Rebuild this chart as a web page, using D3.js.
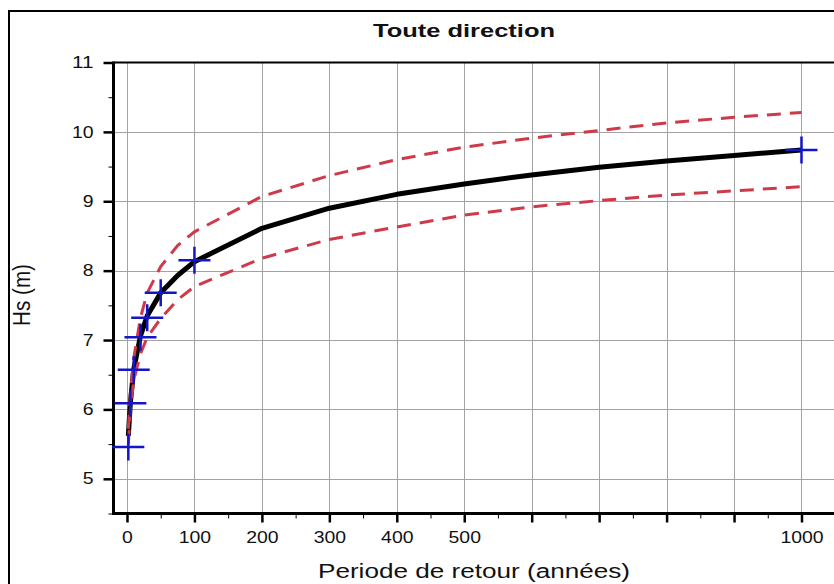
<!DOCTYPE html>
<html>
<head>
<meta charset="utf-8">
<script src="https://cdn.jsdelivr.net/npm/d3@7/dist/d3.min.js"></script>
<style>
  body { margin: 0; background: #fff; }
  svg { display: block; font-family: "Liberation Sans", Arial, sans-serif; }
</style>
</head>
<body>
<div id="chart"></div>
<script>
// DATA
var periods = [2, 5, 10, 20, 30, 50, 100, 1000];             // observed return periods
var hsObs = [5.46, 6.09, 6.57, 7.04, 7.32, 7.68, 8.15, 9.74]; // observed Hs

var fitPeriods = [2, 5, 10, 20, 30, 50, 75, 100, 200, 300, 400, 500, 600, 700, 800, 900, 1000];
var hsFit   = [5.62, 6.10, 6.58, 7.06, 7.35, 7.68, 7.93, 8.13, 8.61, 8.90, 9.10, 9.25, 9.38, 9.49, 9.58, 9.66, 9.74];
var hsUpper = [5.72, 6.22, 6.74, 7.32, 7.68, 8.06, 8.36, 8.56, 9.07, 9.37, 9.60, 9.78, 9.91, 10.02, 10.13, 10.21, 10.28];
var hsLower = [5.50, 6.00, 6.42, 6.80, 7.04, 7.31, 7.58, 7.77, 8.18, 8.45, 8.63, 8.80, 8.92, 9.01, 9.09, 9.15, 9.21];

var xTicks = [0, 100, 200, 300, 400, 500, 600, 700, 800, 900, 1000];
var xLabels = ["0", "100", "200", "300", "400", "500", "", "", "", "", "1000"];
var yTicks = [5, 6, 7, 8, 9, 10, 11];

var width = 834, height = 584;
var plotLeft = 113.5, plotTop = 62.5, plotBottom = 513.5;

var svg = d3.select("#chart").append("svg")
  .attr("width", width)
  .attr("height", height);

// outer frame (cropped on right / bottom)
svg.append("path")
  .attr("d", "M9," + (height + 5) + "V11H" + (width + 5))
  .attr("fill", "none").attr("stroke", "#000").attr("stroke-width", 2);

// SCALES
var x = d3.scaleLinear().domain([-20, 1100]).range([plotLeft, plotLeft + 1120 * 0.6745]);
var y = d3.scaleLinear().domain([4.5, 11]).range([plotBottom, plotTop]);

// GRID
var grid = svg.append("g").attr("stroke", "#a3a3a3").attr("stroke-width", 1);
grid.selectAll(".gx").data(xTicks).enter().append("line")
  .attr("x1", function (d) { return Math.round(x(d)) + 0.5; })
  .attr("x2", function (d) { return Math.round(x(d)) + 0.5; })
  .attr("y1", plotTop).attr("y2", plotBottom);
grid.selectAll(".gy").data(yTicks.slice(0, -1)).enter().append("line")
  .attr("y1", function (d) { return Math.round(y(d)) + 0.5; })
  .attr("y2", function (d) { return Math.round(y(d)) + 0.5; })
  .attr("x1", plotLeft).attr("x2", width);

// top frame
svg.append("line")
  .attr("x1", plotLeft).attr("x2", width)
  .attr("y1", plotTop).attr("y2", plotTop)
  .attr("stroke", "#000").attr("stroke-width", 2);

// AXES
var digitW = 10.8;
var xAxis = d3.axisBottom(x).tickValues(xTicks)
  .tickFormat(function (d, i) { return xLabels[i]; })
  .tickSize(9).tickPadding(9);
var xMinor = d3.axisBottom(x).tickValues(d3.range(50, 1100, 100))
  .tickFormat("").tickSize(5);
var gx = svg.append("g").attr("transform", "translate(0," + plotBottom + ")").call(xAxis);
svg.append("g").attr("transform", "translate(0," + plotBottom + ")").call(xMinor)
  .select(".domain").remove();
gx.select(".domain").attr("stroke-width", 3).attr("d", "M" + (plotLeft - 1.5) + ",0H" + (width + 5));
gx.selectAll(".tick line").attr("stroke-width", 2.5);
gx.selectAll(".tick text")
  .attr("font-size", 16).attr("fill", "#111")
  .attr("textLength", function () { return this.textContent.length * digitW; })
  .attr("lengthAdjust", "spacingAndGlyphs");

var yAxis = d3.axisLeft(y).tickValues(yTicks).tickFormat(d3.format("d"))
  .tickSize(10).tickPadding(10);
var yMinor = d3.axisLeft(y).tickValues(d3.range(4.5, 11, 1)).tickFormat("").tickSize(5);
var gy = svg.append("g").attr("transform", "translate(" + plotLeft + ",0)").call(yAxis);
svg.append("g").attr("transform", "translate(" + plotLeft + ",0)").call(yMinor)
  .select(".domain").remove();
gy.select(".domain").attr("stroke-width", 3).attr("d", "M0," + (plotTop - 1) + "V" + (plotBottom + 1.5));
gy.selectAll(".tick line").attr("stroke-width", 2.5);
gy.selectAll(".tick text")
  .attr("font-size", 16).attr("fill", "#111")
  .attr("textLength", function () { return this.textContent.length * digitW; })
  .attr("lengthAdjust", "spacingAndGlyphs");
svg.selectAll(".tick line").attr("stroke", "#000");

// CURVES
var line = d3.line()
  .x(function (d) { return x(d[0]); })
  .y(function (d) { return y(d[1]); })
  .curve(d3.curveLinear);

svg.append("path")
  .datum(d3.zip(fitPeriods, hsFit))
  .attr("d", line)
  .attr("fill", "none").attr("stroke", "#000").attr("stroke-width", 5)
  .attr("stroke-linejoin", "round");

[hsUpper, hsLower].forEach(function (band) {
  svg.append("path")
    .datum(d3.zip(fitPeriods, band))
    .attr("d", line)
    .attr("fill", "none").attr("stroke", "#cf3a4b")
    .attr("stroke-width", 3).attr("stroke-dasharray", "14,9");
});

// observed points as "+" markers
var marks = svg.append("g").attr("stroke", "#1414c8").attr("stroke-width", 2.5);
marks.selectAll("path").data(d3.zip(periods, hsObs)).enter().append("path")
  .attr("d", function (d) {
    var cx = x(d[0]), cy = y(d[1]);
    return "M" + (cx - 16) + "," + cy + "H" + (cx + 16) +
           "M" + cx + "," + (cy - 13.5) + "V" + (cy + 13.5);
  });

// TITLES
svg.append("text")
  .attr("x", 373).attr("y", 37)
  .attr("font-size", 18.5).attr("font-weight", "bold").attr("fill", "#111")
  .attr("textLength", 182).attr("lengthAdjust", "spacingAndGlyphs")
  .text("Toute direction");

svg.append("text")
  .attr("x", 318).attr("y", 578)
  .attr("font-size", 20).attr("fill", "#111")
  .attr("textLength", 312).attr("lengthAdjust", "spacingAndGlyphs")
  .text("Periode de retour (années)");

svg.append("text")
  .attr("transform", "translate(30,326) rotate(-90)")
  .attr("font-size", 23).attr("fill", "#111")
  .attr("textLength", 62).attr("lengthAdjust", "spacingAndGlyphs")
  .text("Hs (m)");
</script>
</body>
</html>
